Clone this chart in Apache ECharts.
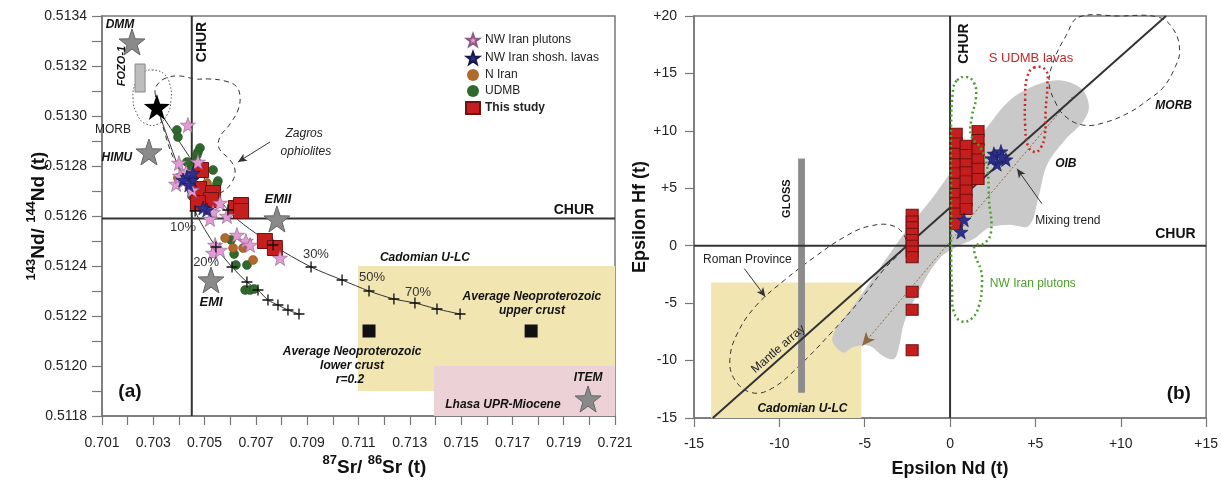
<!DOCTYPE html>
<html>
<head>
<meta charset="utf-8">
<script src="https://cdn.jsdelivr.net/npm/echarts@6/dist/echarts.min.js"></script>
<style>
  html, body { margin: 0; padding: 0; background: #fff; }
  #chart { width: 1221px; height: 490px; }
</style>
</head>
<body>
<div id="chart"></div>
<script>
// ---- panel (a): 87Sr/86Sr (t) vs 143Nd/144Nd (t) ----
var nwPlutonsA = [[0.70435,0.512964],[0.70400,0.512812],[0.70389,0.512728],[0.70416,0.51274],[0.70428,0.512776],
  [0.70451,0.512704],[0.70474,0.512816],[0.70560,0.512652],[0.70533,0.512616],[0.70587,0.5126],[0.70521,0.512588],
  [0.70626,0.512524],[0.70661,0.5125],[0.70677,0.512484],[0.70541,0.512484],[0.70533,0.512452],[0.70560,0.512464],
  [0.70794,0.512432],[0.70404,0.51276]];
var nwLavasA = [[0.70431,0.512756],[0.70451,0.512744],[0.70416,0.512744],[0.70455,0.512772],[0.70509,0.512624],
  [0.70494,0.512632],[0.70439,0.512724]];
var nIranA = [[0.70580,0.512512],[0.70611,0.512472],[0.70650,0.512472],[0.70689,0.512424],[0.70396,0.512752],
  [0.70509,0.512732],[0.70537,0.512664]];
var udmbA = [[0.70392,0.512944],[0.70396,0.512916],[0.70482,0.512872],[0.70474,0.512856],[0.70470,0.512844],
  [0.70467,0.51282],[0.70533,0.512784],[0.70552,0.51274],[0.70548,0.512728],[0.70509,0.512724],[0.70443,0.512796],
  [0.70431,0.512816],[0.70463,0.512764],[0.70451,0.51268],[0.70603,0.512504],[0.70622,0.512404],[0.70665,0.512404],
  [0.70658,0.512304],[0.70677,0.512304],[0.70693,0.512308],[0.70615,0.512448],[0.70482,0.512664]];
var thisStudyA = [[0.70486,0.512784],[0.70478,0.512708],[0.70533,0.512692],[0.70525,0.512664],[0.70474,0.512652],
  [0.70622,0.512632],[0.70642,0.512644],[0.70642,0.51262],[0.70735,0.5125],[0.70774,0.512472]];
var mantleEndA = [[0.70217,0.513296],[0.70283,0.512856],[0.70782,0.512588],[0.70525,0.512344],[0.71995,0.511868]]; // DMM, HIMU, EMII, EMI, ITEM
var morbStarA = [[0.70314,0.513036]];
var neoCrustA = [[0.71141,0.51214],[0.71773,0.51214]];
var mixCurve1 = [[0.70314,0.513036],[0.70591,0.512624],[0.70767,0.512484],[0.70915,0.512396],[0.71036,0.512344],
  [0.71141,0.5123],[0.71238,0.512268],[0.71320,0.512252],[0.71406,0.512228],[0.71496,0.512208]];
var mixCurve2 = [[0.70314,0.513036],[0.70463,0.51262],[0.70544,0.512476],[0.70607,0.512396],[0.70665,0.512336],
  [0.70708,0.512304],[0.70747,0.512264],[0.70786,0.512244],[0.70825,0.512224],[0.70868,0.512208]];
var churSrA = 0.7045, churNdA = 0.51259;
var cadomianBoxA = [[0.71098,0.5119],[0.721,0.5124]];
var lhasaBoxA = [[0.71394,0.5118],[0.721,0.5120]];
var fozoBoxA = [[0.70229,0.513096],[0.70268,0.513208]];
var zagrosOutline = [[0.703066,0.513096],[0.703261,0.513004],[0.703495,0.512916],[0.703768,0.512836],[0.704119,0.512776],
  [0.705016,0.512676],[0.705678,0.512696],[0.706068,0.512736],[0.706185,0.512784],[0.70599,0.512824],[0.705561,0.512872],
  [0.7056,0.512916],[0.70599,0.512968],[0.706302,0.513024],[0.70638,0.51308],[0.706224,0.51312],[0.705795,0.51314],
  [0.70521,0.513148],[0.704626,0.513148],[0.704041,0.51316],[0.703495,0.513152],[0.703144,0.513124]];
var morbOutlineA = [[0.702949,0.513184],[0.703417,0.513168],[0.703651,0.513124],[0.70369,0.513064],[0.703534,0.513004],
  [0.703183,0.512968],[0.702715,0.512968],[0.702365,0.513008],[0.702209,0.513072],[0.702326,0.513136],[0.702598,0.513172]];
var arrowsA = [[[0.70755,0.512896],[0.70630,0.512816]]];
var annotA = [
  [0.7049,0.513296,'CHUR','chur',90],[0.71940,0.512624,'CHUR','chur',0],
  [0.70170,0.513364,'DMM','bi',0],[0.70178,0.5132,'FOZO-1','bi11',90],[0.70143,0.512944,'MORB','n',0],
  [0.70158,0.512832,'HIMU','bi',0],[0.70888,0.512928,'Zagros','i',0],[0.70895,0.512856,'ophiolites','i',0],
  [0.70786,0.512668,'EMII','bi13',0],[0.70525,0.512256,'EMI','bi13',0],
  [0.70416,0.512556,'10%','pct',0],[0.70506,0.512416,'20%','pct',0],[0.70934,0.512448,'30%','pct',0],
  [0.71153,0.512356,'50%','pct',0],[0.71332,0.512296,'70%','pct',0],
  [0.71359,0.512432,'Cadomian U-LC','bi',0],[0.71776,0.512276,'Average Neoproterozoic','bi',0],
  [0.71776,0.51222,'upper crust','bi',0],[0.71075,0.512056,'Average Neoproterozoic','bi',0],
  [0.71075,0.512,'lower crust','bi',0],[0.71067,0.511944,'r=0.2','bi',0],
  [0.71995,0.511952,'ITEM','bi',0],[0.71663,0.511844,'Lhasa UPR-Miocene','bi',0],[0.70209,0.511896,'(a)','panel',0]
];

// ---- panel (b): Epsilon Nd (t) vs Epsilon Hf (t) ----
var thisStudyB = [
  [-2.22,2.7],[-2.22,2.1],[-2.22,1.6],[-2.22,1.05],[-2.22,0.5],[-2.22,0],[-2.22,-0.5],[-2.22,-1.0],
  [-2.22,-4.0],[-2.22,-5.57],[-2.22,-9.1],
  [0.36,9.75],[0.36,8.9],[0.36,8.0],[0.36,7.1],[0.36,6.3],[0.36,5.4],[0.36,4.5],[0.36,3.7],[0.36,2.8],[0.36,1.9],
  [0.94,8.7],[0.94,7.9],[0.94,7.1],[0.94,6.4],[0.94,5.6],[0.94,4.8],[0.94,4.0],[0.94,3.2],
  [1.64,10.0],[1.64,9.2],[1.64,8.4],[1.64,7.5],[1.64,6.7],[1.64,5.8]];
var nwLavasB = [[2.57,8.0],[2.98,8.2],[2.75,7.1],[3.27,7.5],[2.46,7.6],[3.04,7.75],[0.82,2.26],[0.64,1.2]];
var mantleArray = [[-13.9,-15],[12.65,20]];
var mixingTrend = [[-5.15,-8.7],[7.25,13.1]];
var glossBar = [[-8.9,-12.8],[-8.5,7.6]];
var cadomianBoxB = [[-14,-15],[-5.2,-3.2]];
var oibField = [[-6.9,-8.0],[-5.44,-4.79],[-4.15,-2.0],[-2.57,1.31],[-0.94,4.35],[0.53,7.4],[2.0,10.0],[3.45,12.6],
  [4.9,13.9],[6.37,14.4],[7.66,13.7],[8.13,12.2],[7.84,10.9],[6.67,9.1],[5.67,7.0],[5.2,4.35],[4.62,1.74],[3.45,1.83],
  [2.28,1.57],[1.4,0.6],[0.41,-0.09],[-0.64,-1.13],[-1.81,-3.9],[-2.69,-6.7],[-2.98,-8.7],[-3.27,-9.84],[-3.86,-9.66],
  [-4.74,-8.7],[-5.61,-8.8],[-6.3,-9.3]];
var morbFieldB = [[7.54,19.9],[9.9,20.0],[12.2,19.9],[13.1,18.8],[13.45,17.0],[13.2,15.6],[12.5,13.8],[11.6,12.7],
  [10.5,11.6],[9.0,10.7],[7.8,10.5],[6.8,11.2],[6.2,12.4],[5.8,14.2],[6.1,16.2],[6.8,18.3]];
var romanField = [[-2.57,0.5],[-3.27,1.7],[-4.74,1.7],[-6.2,0.75],[-7.95,-1.0],[-9.7,-3.0],[-11.35,-5.2],[-12.45,-7.6],
  [-12.9,-9.9],[-12.6,-11.7],[-11.6,-12.8],[-10.4,-12.4],[-8.8,-10.4],[-7.1,-7.8],[-5.3,-4.8],[-3.9,-2.1],[-2.8,-0.4]];
var nwPlutonsField = [[0.41,14.4],[0.94,14.7],[1.4,14.2],[1.52,12.9],[1.29,11.3],[1.23,9.6],[1.8,8.5],[2.16,7.0],
  [2.28,4.0],[2.4,1.2],[2.0,0.2],[1.46,0],[1.46,-0.8],[1.8,-2.1],[1.87,-3.4],[1.7,-5.2],[1.29,-6.3],[0.7,-6.6],
  [0.23,-5.8],[0.12,-3.9],[0.06,-0.4],[0.06,4.0],[0.06,10.1],[0.18,13.6]];
var sUdmbField = [[4.9,15.5],[5.6,15.3],[5.7,14.0],[5.6,11.8],[5.55,9.6],[5.3,8.5],[4.97,8.15],[4.56,8.7],
  [4.4,10.5],[4.4,12.7],[4.5,14.6]];
var arrowsB = [[[-12.05,-2.0],[-10.82,-4.44]],[[5.38,3.66],[3.92,6.7]]];
var annotB = [
  [0.82,17.6,'CHUR','chur',90],[13.2,1.04,'CHUR','chur',0],[4.74,16.28,'S UDMB lavas','red',0],
  [13.1,12.19,'MORB','bi',0],[6.78,7.14,'OIB','bi',0],[6.9,2.18,'Mixing trend','n',0],
  [4.85,-3.31,'NW Iran plutons','green',0],[-11.87,-1.22,'Roman Province','n',0],
  [-10.06,-9.0,'Mantle array','n',41],[-9.53,4.1,'GLOSS','b11',90],[-8.65,-14.2,'Cadomian U-LC','bi',0],
  [13.4,-12.9,'(b)','panel',0]
];

var FONT = '"Liberation Sans", Arial, sans-serif';
var STAR = 'path://M50,2L61.8,36.2L97.6,36.9L69,58.6L79.4,92.9L50,72.5L20.6,92.9L31,58.6L2.4,36.9L38.2,36.2Z';
var CROSS = 'path://M4.4,0H5.6V4.4H10V5.6H5.6V10H4.4V5.6H0V4.4H4.4Z';

var textStyles = {
  chur: { fontSize: 14, fontWeight: 'bold', fill: '#111' },
  bi: { fontSize: 12, fontWeight: 'bold', fontStyle: 'italic', fill: '#111' },
  bi11: { fontSize: 11, fontWeight: 'bold', fontStyle: 'italic', fill: '#111' },
  bi13: { fontSize: 13, fontWeight: 'bold', fontStyle: 'italic', fill: '#111' },
  b11: { fontSize: 11, fontWeight: 'bold', fill: '#111' },
  n: { fontSize: 12, fill: '#222' },
  i: { fontSize: 12, fontStyle: 'italic', fill: '#222' },
  pct: { fontSize: 13, fill: '#333' },
  panel: { fontSize: 19, fontWeight: 'bold', fill: '#111' },
  red: { fontSize: 13, fill: '#c62828' },
  green: { fontSize: 12, fill: '#4a9d2a' }
};

function textSeries(ax, list) {
  return {
    type: 'custom', xAxisIndex: ax, yAxisIndex: ax, z: 20, silent: true,
    data: list.map(function (a) { return [a[0], a[1]]; }),
    renderItem: function (params, api) {
      var a = list[params.dataIndex];
      var p = api.coord([a[0], a[1]]);
      var st = Object.assign({ text: a[2], fontFamily: FONT, align: 'center', verticalAlign: 'middle' }, textStyles[a[3]]);
      return { type: 'text', x: p[0], y: p[1], rotation: a[4] * Math.PI / 180, style: st };
    }
  };
}

function boxSeries(ax, box, style, z) {
  return {
    type: 'custom', xAxisIndex: ax, yAxisIndex: ax, z: z, silent: true, data: [box[0]],
    renderItem: function (params, api) {
      var a = api.coord(box[0]), b = api.coord(box[1]);
      return {
        type: 'rect',
        shape: { x: Math.min(a[0], b[0]), y: Math.min(a[1], b[1]), width: Math.abs(b[0] - a[0]), height: Math.abs(b[1] - a[1]) },
        style: style
      };
    }
  };
}

function outlineSeries(ax, pts, style, smooth, z) {
  return {
    type: 'custom', xAxisIndex: ax, yAxisIndex: ax, z: z, silent: true, data: [pts[0]],
    renderItem: function (params, api) {
      return {
        type: 'polygon',
        shape: { points: pts.map(function (p) { return api.coord(p); }), smooth: smooth },
        style: style
      };
    }
  };
}

function arrowLines(list) {
  return list.map(function (a) { return [{ coord: a[0] }, { coord: a[1] }]; });
}

var chart = echarts.init(document.getElementById('chart'), null, { renderer: 'canvas' });

var axisLineStyle = { color: '#777', width: 1.5 };
var labelBase = { color: '#222', fontSize: 14, fontFamily: FONT };

chart.setOption({
  animation: false,
  backgroundColor: '#fff',
  grid: [
    { left: 102, top: 16, width: 513, height: 400, show: true, borderColor: '#777', borderWidth: 1.5 },
    { left: 694, top: 16, width: 513, height: 402, show: true, borderColor: '#777', borderWidth: 1.5 }
  ],
  legend: {
    left: 460, top: 28, orient: 'vertical', itemGap: 4, itemWidth: 14, itemHeight: 12, selectedMode: false,
    textStyle: { fontSize: 12, color: '#222', fontFamily: FONT },
    data: [
      { name: 'NW Iran plutons', icon: STAR },
      { name: 'NW Iran shosh. lavas', icon: STAR },
      { name: 'N Iran', icon: 'circle', itemStyle: { borderWidth: 0 } },
      { name: 'UDMB', icon: 'circle', itemStyle: { borderWidth: 0 } },
      { name: 'This study', icon: 'rect', textStyle: { fontWeight: 'bold' } }
    ]
  },
  xAxis: [
    {
      gridIndex: 0, type: 'value', min: 0.701, max: 0.721, interval: 0.001,
      axisLine: { onZero: false, lineStyle: axisLineStyle },
      axisTick: { length: 9, lineStyle: { color: '#777', width: 1.2 } },
      splitLine: { show: false },
      axisLabel: Object.assign({ margin: 20, formatter: function (v, i) { return i % 2 === 0 ? v.toFixed(3) : ''; } }, labelBase),
      name: '{sup|87}{b|Sr/ }{sup|86}{b|Sr (t)}', nameLocation: 'middle', nameGap: 38, nameMoveOverlap: false,
      nameTextStyle: {
        padding: [0, 0, 0, 32],
        rich: {
          sup: { fontSize: 13, fontWeight: 'bold', fontFamily: FONT, color: '#111', padding: [0, 0, 14, 0] },
          b: { fontSize: 19, fontWeight: 'bold', fontFamily: FONT, color: '#111' }
        }
      }
    },
    {
      gridIndex: 1, type: 'value', min: -15, max: 15, interval: 5,
      axisLine: { onZero: false, lineStyle: axisLineStyle },
      axisTick: { length: 9, lineStyle: { color: '#777', width: 1.2 } },
      splitLine: { show: false },
      axisLabel: Object.assign({ margin: 19, formatter: function (v) { return v > 0 ? '+' + v : String(v); } }, labelBase),
      name: 'Epsilon Nd (t)', nameLocation: 'middle', nameGap: 42, nameMoveOverlap: false,
      nameTextStyle: { fontSize: 18, fontWeight: 'bold', fontFamily: FONT, color: '#111' }
    }
  ],
  yAxis: [
    {
      gridIndex: 0, type: 'value', min: 0.5118, max: 0.5134, interval: 0.0001,
      axisLine: { onZero: false, lineStyle: axisLineStyle },
      axisTick: { length: 10, lineStyle: { color: '#777', width: 1.2 } },
      splitLine: { show: false },
      axisLabel: Object.assign({ margin: 15, formatter: function (v, i) { return i % 2 === 0 ? v.toFixed(4) : ''; } }, labelBase),
      name: '{sup|143}{b|Nd/ }{sup|144}{b|Nd (t)}', nameLocation: 'middle', nameGap: 50, nameMoveOverlap: false,
      nameTextStyle: {
        rich: {
          sup: { fontSize: 13, fontWeight: 'bold', fontFamily: FONT, color: '#111', padding: [0, 0, 14, 0] },
          b: { fontSize: 19, fontWeight: 'bold', fontFamily: FONT, color: '#111' }
        }
      }
    },
    {
      gridIndex: 1, type: 'value', min: -15, max: 20, interval: 5,
      axisLine: { onZero: false, lineStyle: axisLineStyle },
      axisTick: { length: 9, lineStyle: { color: '#777', width: 1.2 } },
      splitLine: { show: false },
      axisLabel: Object.assign({ margin: 17, formatter: function (v) { return v > 0 ? '+' + v : String(v); } }, labelBase),
      name: 'Epsilon Hf (t)', nameLocation: 'middle', nameGap: 45, nameMoveOverlap: false,
      nameTextStyle: { fontSize: 18, fontWeight: 'bold', fontFamily: FONT, color: '#111' }
    }
  ],
  series: [
    // ---------- panel (a) ----------
    boxSeries(0, cadomianBoxA, { fill: '#f1e6b2' }, 1),
    boxSeries(0, lhasaBoxA, { fill: '#ecd2d7' }, 1),
    boxSeries(0, fozoBoxA, { fill: '#bdbdbd', stroke: '#888', lineWidth: 1 }, 3),
    outlineSeries(0, zagrosOutline, { fill: 'none', stroke: '#333', lineWidth: 1, lineDash: [5, 4] }, 0.4, 2),
    outlineSeries(0, morbOutlineA, { fill: 'none', stroke: '#555', lineWidth: 1, lineDash: [1.5, 2] }, 0.5, 2),
    {
      type: 'line', xAxisIndex: 0, yAxisIndex: 0, z: 3, silent: true, symbol: 'none',
      data: [[churSrA, 0.5118], [churSrA, 0.5134]],
      lineStyle: { color: '#333', width: 2 },
      markLine: {
        silent: true, symbol: ['none', 'arrow'], symbolSize: [6, 9], label: { show: false },
        lineStyle: { color: '#333', width: 1, type: 'solid' }, emphasis: { disabled: true },
        data: arrowLines(arrowsA)
      }
    },
    {
      type: 'line', xAxisIndex: 0, yAxisIndex: 0, z: 3, silent: true, symbol: 'none',
      data: [[0.701, churNdA], [0.721, churNdA]],
      lineStyle: { color: '#333', width: 2 }
    },
    {
      type: 'line', xAxisIndex: 0, yAxisIndex: 0, z: 4, silent: true, symbol: 'none', smooth: 0.3,
      data: mixCurve1, lineStyle: { color: '#333', width: 1 }
    },
    {
      type: 'line', xAxisIndex: 0, yAxisIndex: 0, z: 4, silent: true, symbol: 'none', smooth: 0.3,
      data: mixCurve2, lineStyle: { color: '#333', width: 1 }
    },
    {
      type: 'scatter', xAxisIndex: 0, yAxisIndex: 0, z: 9, silent: true, symbol: CROSS, symbolSize: 11,
      data: mixCurve1.slice(1).concat(mixCurve2.slice(1)), itemStyle: { color: '#111', opacity: 1 }
    },
    {
      type: 'scatter', xAxisIndex: 0, yAxisIndex: 0, z: 5, silent: true, symbol: 'rect', symbolSize: 13,
      data: neoCrustA, itemStyle: { color: '#111', opacity: 1 }
    },
    {
      type: 'scatter', xAxisIndex: 0, yAxisIndex: 0, z: 5, silent: true, symbol: STAR, symbolSize: 26,
      data: mantleEndA, itemStyle: { color: '#8a8a8a', borderColor: '#666', borderWidth: 1, opacity: 1 }
    },
    {
      type: 'scatter', xAxisIndex: 0, yAxisIndex: 0, z: 5, silent: true, symbol: STAR, symbolSize: 26,
      data: morbStarA, itemStyle: { color: '#000', opacity: 1 }
    },
    {
      name: 'UDMB', type: 'scatter', xAxisIndex: 0, yAxisIndex: 0, z: 6, symbol: 'circle', symbolSize: 9,
      data: udmbA, itemStyle: { color: '#2f6a2c', borderColor: '#1f4a1d', borderWidth: 0.5, opacity: 1 }
    },
    {
      name: 'N Iran', type: 'scatter', xAxisIndex: 0, yAxisIndex: 0, z: 6, symbol: 'circle', symbolSize: 9,
      data: nIranA, itemStyle: { color: '#b0692a', borderColor: '#7a4515', borderWidth: 0.5, opacity: 1 }
    },
    {
      name: 'This study', type: 'scatter', xAxisIndex: 0, yAxisIndex: 0, z: 7, symbol: 'rect', symbolSize: 15,
      data: thisStudyA, itemStyle: { color: '#c41e1e', borderColor: '#701010', borderWidth: 1, opacity: 1 }
    },
    {
      name: 'NW Iran plutons', type: 'scatter', xAxisIndex: 0, yAxisIndex: 0, z: 8, symbol: STAR, symbolSize: 15,
      data: nwPlutonsA, itemStyle: { color: '#e39bd6', borderColor: '#8a5a80', borderWidth: 0.6, opacity: 1 }
    },
    {
      name: 'NW Iran shosh. lavas', type: 'scatter', xAxisIndex: 0, yAxisIndex: 0, z: 8, symbol: STAR, symbolSize: 14,
      data: nwLavasA, itemStyle: { color: '#2c2f8e', borderColor: '#15174d', borderWidth: 0.6, opacity: 1 }
    },
    textSeries(0, annotA),

    // ---------- panel (b) ----------
    boxSeries(1, cadomianBoxB, { fill: '#f1e6b2' }, 1),
    outlineSeries(1, oibField, { fill: '#c9c9c9', stroke: 'none' }, 0.35, 2),
    outlineSeries(1, morbFieldB, { fill: 'none', stroke: '#333', lineWidth: 1, lineDash: [5, 4] }, 0.4, 3),
    outlineSeries(1, romanField, { fill: 'none', stroke: '#333', lineWidth: 1, lineDash: [5, 4] }, 0.4, 3),
    boxSeries(1, glossBar, { fill: '#8c8c8c' }, 4),
    {
      type: 'line', xAxisIndex: 1, yAxisIndex: 1, z: 5, silent: true, symbol: 'none',
      data: mantleArray, lineStyle: { color: '#333', width: 2 }
    },
    {
      type: 'line', xAxisIndex: 1, yAxisIndex: 1, z: 5, silent: true, symbol: 'none',
      data: [[0, -15], [0, 20]], lineStyle: { color: '#333', width: 2 },
      markLine: {
        silent: true, symbol: ['none', 'arrow'], symbolSize: [6, 9], label: { show: false },
        lineStyle: { color: '#333', width: 1, type: 'solid' }, emphasis: { disabled: true },
        data: arrowLines(arrowsB)
      }
    },
    {
      type: 'line', xAxisIndex: 1, yAxisIndex: 1, z: 5, silent: true, symbol: 'none',
      data: [[-15, 0], [15, 0]], lineStyle: { color: '#333', width: 2 },
      markLine: {
        silent: true, symbol: ['arrow', 'none'], symbolSize: [9, 13], label: { show: false },
        lineStyle: { color: '#8b6a40', width: 1, type: [2, 2] }, itemStyle: { color: '#5a3a14' },
        emphasis: { disabled: true },
        data: [[{ coord: mixingTrend[0] }, { coord: mixingTrend[1] }]]
      }
    },
    {
      type: 'scatter', xAxisIndex: 1, yAxisIndex: 1, z: 6, silent: true, symbol: 'rect', symbolSize: [12, 11],
      data: thisStudyB, itemStyle: { color: '#c41e1e', borderColor: '#701010', borderWidth: 1, opacity: 1 }
    },
    outlineSeries(1, nwPlutonsField, { fill: 'none', stroke: '#4aa02c', lineWidth: 2.5, lineDash: [2, 3] }, 0.45, 7),
    outlineSeries(1, sUdmbField, { fill: 'none', stroke: '#c62828', lineWidth: 2.5, lineDash: [2, 3] }, 0.45, 7),
    {
      type: 'scatter', xAxisIndex: 1, yAxisIndex: 1, z: 8, silent: true, symbol: STAR, symbolSize: 14,
      data: nwLavasB, itemStyle: { color: '#2c2f8e', borderColor: '#15174d', borderWidth: 0.6, opacity: 1 }
    },
    textSeries(1, annotB)
  ]
});
</script>
</body>
</html>
